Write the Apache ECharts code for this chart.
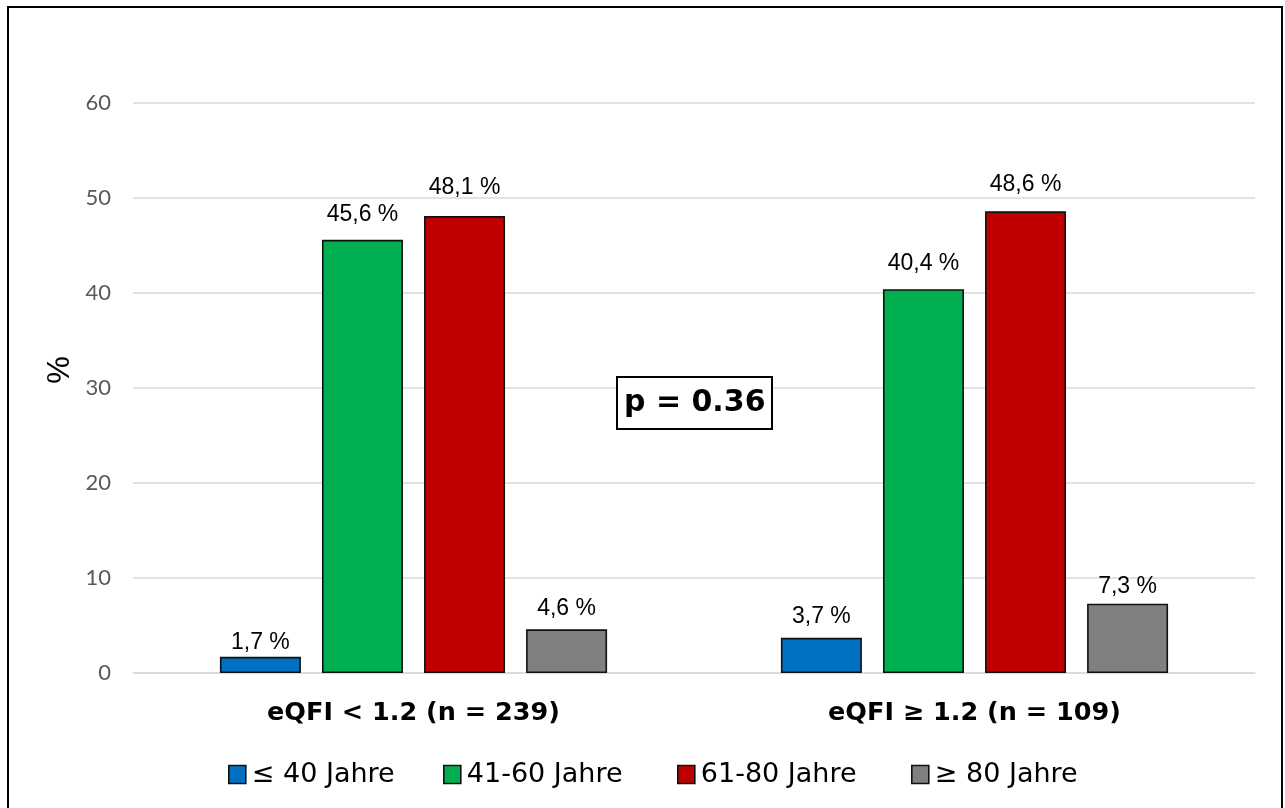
<!DOCTYPE html>
<html>
<head>
<meta charset="utf-8">
<script src="https://cdn.jsdelivr.net/npm/echarts@6/dist/echarts.min.js"></script>
<style>
  html, body { margin: 0; padding: 0; background: #fff; }
  #chart { width: 1285px; height: 808px; }
</style>
</head>
<body>
<div id="chart"></div>
<script>
// Age distribution by eQFI group
const groups = ['eQFI < 1.2 (n = 239)', 'eQFI \u2265 1.2 (n = 109)'];
const ageBands = ['\u2264 40 Jahre', '41-60 Jahre', '61-80 Jahre', '\u2265 80 Jahre'];
const le40 = [1.7, 3.7];
const a41to60 = [45.6, 40.4];
const a61to80 = [48.1, 48.6];
const ge80 = [4.6, 7.3];
const yTicks = [0, 10, 20, 30, 40, 50, 60];
const pValueText = 'p = 0.36';

// styling
const bandColors = ['#0070C0', '#00B050', '#C00000', '#808080'];
const labelLift = [[3, 10], [14, 14], [17, 15], [9, 5]];
const legendLeft = [223, 438, 672, 906];

const seriesValues = [le40, a41to60, a61to80, ge80];

const series = ageBands.map((name, i) => ({
  name,
  type: 'bar',
  barWidth: 81,
  barGap: '26%',
  itemStyle: { color: bandColors[i], borderColor: '#111', borderWidth: 1.6 },
  data: seriesValues[i].map((v, j) => ({
    value: v,
    label: { distance: labelLift[i][j] }
  })),
  label: {
    show: true,
    position: 'top',
    color: '#000',
    fontFamily: 'Liberation Sans, Arial, sans-serif',
    fontSize: 23,
    formatter: p => p.value.toFixed(1).replace('.', ',') + ' %'
  }
}));

const legends = ageBands.map((name, i) => ({
  data: [name],
  left: legendLeft[i],
  top: 756,
  icon: 'rect',
  itemWidth: 17,
  itemHeight: 18,
  itemGap: 0,
  selectedMode: false,
  textStyle: {
    fontFamily: 'DejaVu Sans, sans-serif',
    fontSize: 27,
    color: '#000',
    padding: [0, 0, 0, 1]
  },
  itemStyle: { borderColor: '#111', borderWidth: 1.6 }
}));

const chart = echarts.init(document.getElementById('chart'), null, { renderer: 'canvas' });
chart.setOption({
  animation: false,
  backgroundColor: '#fff',
  grid: { left: 133, right: 30, top: 103, bottom: 135, containLabel: false },
  title: {
    text: pValueText,
    left: 617,
    top: 377,
    padding: [11, 7],
    backgroundColor: '#fff',
    borderColor: '#000',
    borderWidth: 2,
    textStyle: {
      fontFamily: 'DejaVu Sans, sans-serif',
      fontWeight: 'bold',
      fontSize: 30,
      lineHeight: 30,
      color: '#000'
    }
  },
  legend: legends,
  xAxis: {
    type: 'category',
    data: groups,
    axisTick: { show: false },
    axisLine: { show: true, lineStyle: { color: '#d9d9d9', width: 1.5 } },
    axisLabel: {
      margin: 27,
      color: '#000',
      fontFamily: 'DejaVu Sans, sans-serif',
      fontWeight: 'bold',
      fontSize: 25.5
    }
  },
  yAxis: {
    type: 'value',
    min: yTicks[0],
    max: yTicks[yTicks.length - 1],
    interval: yTicks[1] - yTicks[0],
    axisLine: { show: false },
    axisTick: { show: false },
    splitLine: { lineStyle: { color: '#d9d9d9', width: 1.5 } },
    axisLabel: {
      margin: 22,
      color: '#595959',
      fontFamily: 'Lato, sans-serif',
      fontSize: 22
    }
  },
  graphic: [
    {
      type: 'rect',
      silent: true,
      shape: { x: 8, y: 7, width: 1274, height: 900 },
      style: { fill: 'none', stroke: '#000', lineWidth: 2 }
    },
    {
      type: 'text',
      x: 60,
      y: 370,
      rotation: Math.PI / 2,
      style: {
        text: '%',
        fill: '#000',
        font: '31px "Liberation Sans", Arial, sans-serif',
        align: 'center',
        verticalAlign: 'middle'
      }
    }
  ],
  series
});
</script>
</body>
</html>
